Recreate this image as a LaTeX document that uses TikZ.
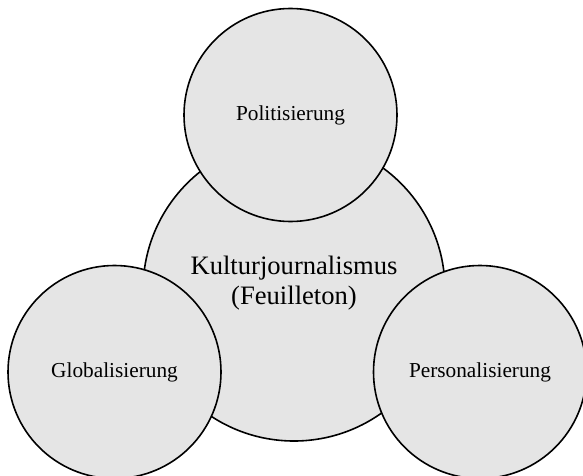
\documentclass[tikz,border=0pt]{standalone}
\usepackage{fontspec}
\setmainfont{Liberation Serif}
\begin{document}
\begin{tikzpicture}[x=1pt,y=-1pt]
\tikzset{bigcircle/.style = {shape=circle,draw,line width=1.6pt,fill=black!10,minimum size=302pt,inner sep=0pt}}
\tikzset{smallcircle/.style = {shape=circle,draw,line width=1.6pt,fill=black!10,minimum size=213pt,inner sep=0pt,font=\fontsize{21.3}{25}\selectfont}}
\useasboundingbox (0,0) rectangle (583,476);
% central circle
\node[bigcircle] (kultur) at (294,290) {};
\node[align=center,font=\fontsize{26.6}{30}\selectfont] (kulturtext) at (294,283) {Kulturjournalismus\\(Feuilleton)};
% circles around it
\node[smallcircle] (politik) at (290.5,115) {Politisierung};
\node[smallcircle] (global) at (114.5,372) {Globalisierung};
\node[smallcircle] (person) at (480,372) {Personalisierung};
\end{tikzpicture}
\end{document}
